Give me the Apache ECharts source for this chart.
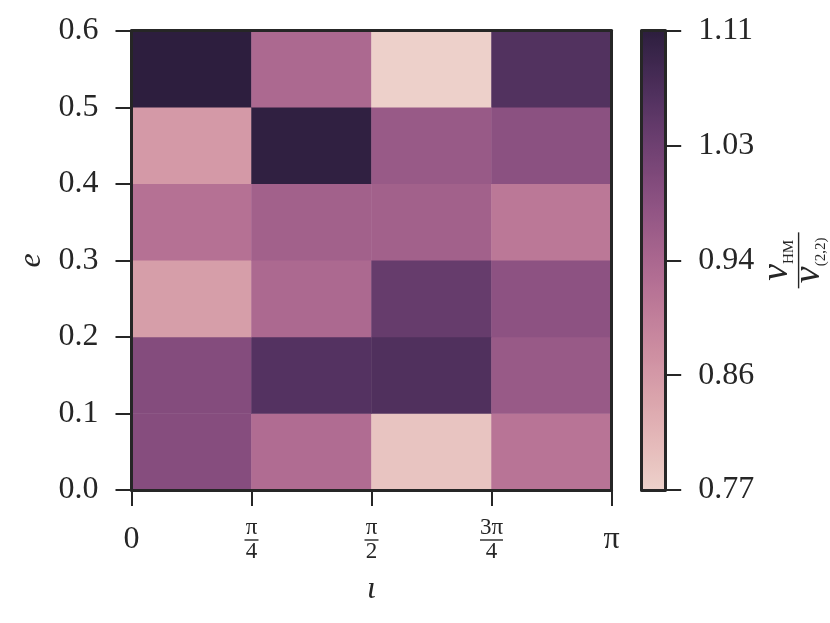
<!DOCTYPE html>
<html>
<head>
<meta charset="utf-8">
<script src="https://cdn.jsdelivr.net/npm/echarts@6/dist/echarts.min.js"></script>
<style>
  html, body { margin: 0; padding: 0; background: #fff; }
  #chart { width: 830px; height: 623px; }
</style>
</head>
<body>
<div id="chart"></div>
<script>
// ι bins (columns) and e bins (rows, bottom to top)
const iotaBins = ['0–π/4', 'π/4–π/2', 'π/2–3π/4', '3π/4–π']
const eBins = ['0.0–0.1', '0.1–0.2', '0.2–0.3', '0.3–0.4', '0.4–0.5', '0.5–0.6']
// ν_HM / ν_(2,2), one row per e bin, from e = 0.0 upward
const ratioRows = [
  [0.993, 0.930, 0.790, 0.916],
  [0.995, 1.058, 1.063, 0.967],
  [0.848, 0.937, 1.035, 0.983],
  [0.922, 0.953, 0.953, 0.909],
  [0.855, 1.106, 0.967, 0.985],
  [1.110, 0.937, 0.772, 1.060]
]
const xTickLabels = ['0', 'π/4', 'π/2', '3π/4', 'π']
const yTickLabels = ['0.0', '0.1', '0.2', '0.3', '0.4', '0.5', '0.6']
const cbarTickLabels = ['0.77', '0.86', '0.94', '1.03', '1.11']
const vMin = 0.77
const vMax = 1.11

const ink = '#262626'
const font = 'Liberation Serif'

// seaborn cubehelix_palette (light=.85, dark=.15, rot=.4, hue=.8), low -> high
function cubehelix (t) {
  const x = 0.85 - 0.7 * t
  const a = 0.8 * x * (1 - x) / 2
  const phi = 2 * Math.PI * (0.4 * x)
  const c = Math.cos(phi)
  const s = Math.sin(phi)
  const ch = v => Math.round(Math.min(1, Math.max(0, v)) * 255)
  const r = ch(x + a * (-0.14861 * c + 1.78277 * s))
  const g = ch(x + a * (-0.29227 * c - 0.90649 * s))
  const b = ch(x + a * (1.97294 * c))
  return 'rgb(' + r + ',' + g + ',' + b + ')'
}
const palette = []
for (let i = 0; i <= 20; i++) palette.push(cubehelix(i / 20))

const heatData = []
ratioRows.forEach((row, yi) => {
  row.forEach((v, xi) => heatData.push([xi, yi, v]))
})

// π/4 -> stacked fraction
function fracLabel (idx) {
  const s = xTickLabels[idx]
  if (s.indexOf('/') < 0) return '{e| }\n{z|' + s + '}\n{e| }'
  const parts = s.split('/')
  const bar = parts[0].length > 1 ? 'barL' : 'barS'
  return '{n|' + parts[0] + '}\n{' + bar + '| }\n{d|' + parts[1] + '}'
}

const G = { left: 131.5, top: 30.7, width: 480, height: 459.3 }
const C = { left: 641.7, top: 30.7, width: 23.5, height: 459.3 }

function frameAxis (gridIndex, position) {
  return {
    gridIndex: gridIndex,
    type: 'value',
    min: 0,
    max: 1,
    position: position,
    z: 10,
    axisLine: { show: true, onZero: false, lineStyle: { color: ink, width: 3 } },
    axisTick: { show: false },
    axisLabel: { show: false },
    splitLine: { show: false }
  }
}

const option = {
  backgroundColor: '#fff',
  animation: false,
  grid: [
    { left: G.left, top: G.top, width: G.width, height: G.height },
    { left: C.left, top: C.top, width: C.width, height: C.height }
  ],
  xAxis: [
    { gridIndex: 0, type: 'category', data: iotaBins, show: false },
    {
      gridIndex: 0,
      type: 'value',
      min: 0,
      max: xTickLabels.length - 1,
      interval: 1,
      position: 'bottom',
      z: 10,
      name: 'ι',
      nameLocation: 'middle',
      nameGap: 84,
      nameTextStyle: { fontFamily: font, fontStyle: 'italic', fontSize: 32, color: ink },
      axisLine: { show: true, onZero: false, lineStyle: { color: ink, width: 3 } },
      axisTick: { show: true, length: 16, lineStyle: { color: ink, width: 2 } },
      splitLine: { show: false },
      axisLabel: {
        margin: 28,
        formatter: function (v) { return fracLabel(Math.round(v)) },
        rich: {
          n: { fontFamily: font, fontSize: 23, lineHeight: 20, color: ink, align: 'center' },
          d: { fontFamily: font, fontSize: 23, lineHeight: 20, color: ink, align: 'center' },
          barS: { width: 14, height: 1.4, lineHeight: 4, fontSize: 1, backgroundColor: ink, align: 'center' },
          barL: { width: 23, height: 1.4, lineHeight: 4, fontSize: 1, backgroundColor: ink, align: 'center' },
          e: { fontSize: 10, lineHeight: 20 },
          z: { fontFamily: font, fontSize: 32, lineHeight: 4, color: ink, align: 'center' }
        }
      }
    },
    frameAxis(0, 'top'),
    frameAxis(1, 'bottom'),
    frameAxis(1, 'top')
  ],
  yAxis: [
    { gridIndex: 0, type: 'category', data: eBins, show: false },
    {
      gridIndex: 0,
      type: 'value',
      min: 0,
      max: yTickLabels.length - 1,
      interval: 1,
      position: 'left',
      z: 10,
      name: 'e',
      nameLocation: 'middle',
      nameGap: 82,
      nameRotate: 90,
      nameTextStyle: { fontFamily: font, fontStyle: 'italic', fontSize: 32, color: ink },
      axisLine: { show: true, onZero: false, lineStyle: { color: ink, width: 3 } },
      axisTick: { show: true, length: 16, lineStyle: { color: ink, width: 2 } },
      splitLine: { show: false },
      axisLabel: {
        margin: 33,
        fontFamily: font,
        fontSize: 32,
        color: ink,
        formatter: function (v) { return yTickLabels[Math.round(v)] }
      }
    },
    frameAxis(0, 'right'),
    {
      gridIndex: 1,
      type: 'value',
      min: 0,
      max: cbarTickLabels.length - 1,
      interval: 1,
      position: 'right',
      z: 10,
      name: '{v|ν}{s|HM}\n{bar| }\n{v|ν}{s|(2,2)}',
      nameLocation: 'middle',
      nameGap: 90,
      nameRotate: 90,
      nameTextStyle: {
        rich: {
          v: { fontFamily: font, fontStyle: 'italic', fontSize: 38, lineHeight: 27, color: ink, verticalAlign: 'bottom' },
          s: { fontFamily: font, fontSize: 15, lineHeight: 27, color: ink, verticalAlign: 'bottom' },
          bar: { width: 56, height: 1.4, lineHeight: 5, fontSize: 1, backgroundColor: ink, align: 'center' }
        }
      },
      axisLine: { show: true, onZero: false, lineStyle: { color: ink, width: 3 } },
      axisTick: { show: true, length: 16, lineStyle: { color: ink, width: 2 } },
      splitLine: { show: false },
      axisLabel: {
        margin: 33,
        fontFamily: font,
        fontSize: 32,
        color: ink,
        formatter: function (v) { return cbarTickLabels[Math.round(v)] }
      }
    },
    frameAxis(1, 'left')
  ],
  visualMap: {
    type: 'continuous',
    min: vMin,
    max: vMax,
    dimension: 2,
    seriesIndex: 0,
    orient: 'vertical',
    left: C.left,
    top: C.top,
    itemWidth: C.width,
    itemHeight: C.height,
    padding: 0,
    calculable: false,
    showLabel: false,
    inRange: { color: palette }
  },
  series: [{
    type: 'heatmap',
    xAxisIndex: 0,
    yAxisIndex: 0,
    data: heatData,
    itemStyle: { borderWidth: 0 },
    emphasis: { disabled: true }
  }]
}

const myChart = echarts.init(document.getElementById('chart'))
myChart.setOption(option)
window.addEventListener('resize', function () {
  myChart.resize()
})
</script>
</body>
</html>
